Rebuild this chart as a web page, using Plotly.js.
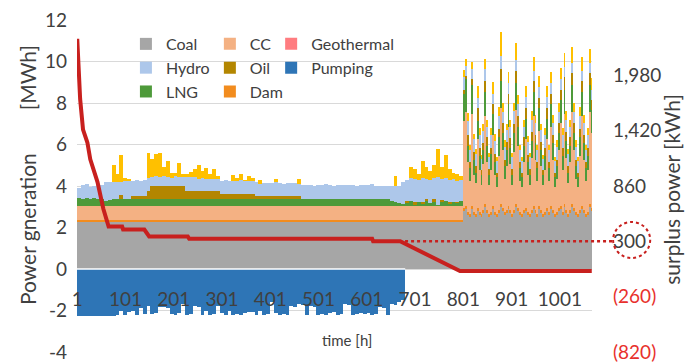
<!DOCTYPE html>
<html><head><meta charset="utf-8">
<script src="https://cdn.plot.ly/plotly-3.0.1.min.js"></script>
<style>html,body{margin:0;padding:0;background:#fff}#chart{width:685px;height:364px}</style>
</head><body><div id="chart"></div>
<script>
// ---- block layout of the hourly series (read in blocks) ----
const earlyStartHour = 0.5, earlyBlockHours = 8;   // hours 1..800
const lateStartHour = 800.5, lateBlockHours = 4;   // hours 801..1067

// ---- early period (100 blocks of 8 h), MWh ----
const coalEarly = [
2.25,2.25,2.25,2.25,2.25,2.25,2.25,2.25,2.25,2.25,
2.25,2.25,2.25,2.25,2.25,2.25,2.25,2.25,2.25,2.25,
2.25,2.25,2.25,2.25,2.25,2.25,2.25,2.25,2.25,2.25,
2.25,2.25,2.25,2.25,2.25,2.25,2.25,2.25,2.25,2.25,
2.25,2.25,2.25,2.25,2.25,2.25,2.25,2.25,2.25,2.25,
2.25,2.25,2.25,2.25,2.25,2.25,2.25,2.25,2.25,2.25,
2.25,2.25,2.25,2.25,2.25,2.25,2.25,2.25,2.25,2.25,
2.25,2.25,2.25,2.25,2.25,2.25,2.25,2.25,2.25,2.25,
2.25,2.25,2.25,2.25,2.25,2.25,2.25,2.25,2.25,2.25,
2.25,2.25,2.25,2.25,2.25,2.25,2.25,2.25,2.25,2.25];
const damEarly = [
0.12,0.12,0.12,0.12,0.12,0.12,0.12,0.12,0.12,0.12,
0.12,0.12,0.12,0.12,0.12,0.12,0.12,0.12,0.12,0.12,
0.12,0.12,0.12,0.12,0.12,0.12,0.12,0.12,0.12,0.12,
0.12,0.12,0.12,0.12,0.12,0.12,0.12,0.12,0.12,0.12,
0.12,0.12,0.12,0.12,0.12,0.12,0.12,0.12,0.12,0.12,
0.12,0.12,0.12,0.12,0.12,0.12,0.12,0.12,0.12,0.12,
0.12,0.12,0.12,0.12,0.12,0.12,0.12,0.12,0.12,0.12,
0.12,0.12,0.12,0.12,0.12,0.12,0.12,0.12,0.12,0.12,
0.12,0.12,0.12,0.12,0.12,0.12,0.12,0.12,0.12,0.12,
0.12,0.12,0.12,0.12,0.12,0.12,0.12,0.12,0.12,0.12];
const ccEarly = [
0.65,0.65,0.65,0.65,0.65,0.65,0.65,0.65,0.65,0.65,
0.65,0.65,0.65,0.65,0.65,0.65,0.65,0.65,0.65,0.65,
0.65,0.65,0.65,0.65,0.65,0.65,0.65,0.65,0.65,0.65,
0.65,0.65,0.65,0.65,0.65,0.65,0.65,0.65,0.65,0.65,
0.65,0.65,0.65,0.65,0.65,0.65,0.65,0.65,0.65,0.65,
0.65,0.65,0.65,0.65,0.65,0.65,0.65,0.65,0.65,0.65,
0.65,0.65,0.65,0.65,0.65,0.65,0.65,0.65,0.65,0.65,
0.65,0.65,0.65,0.65,0.65,0.65,0.65,0.65,0.65,0.65,
0.65,0.65,0.65,0.65,0.65,0.65,0.65,0.65,0.65,0.65,
0.65,0.65,0.65,0.65,0.65,0.65,0.65,0.65,0.65,0.65];
const lngEarly = [
0.38,0.35,0.40,0.36,0.38,0.35,0.37,0.25,0.30,0.33,
0.33,0.33,0.33,0.33,0.33,0.33,0.33,0.33,0.33,0.33,
0.33,0.33,0.33,0.33,0.33,0.33,0.33,0.33,0.33,0.33,
0.33,0.33,0.33,0.33,0.33,0.33,0.33,0.33,0.33,0.33,
0.33,0.33,0.33,0.33,0.33,0.33,0.33,0.33,0.33,0.33,
0.33,0.33,0.33,0.33,0.33,0.33,0.33,0.33,0.33,0.33,
0.33,0.33,0.33,0.33,0.33,0.33,0.33,0.33,0.33,0.33,
0.33,0.33,0.33,0.33,0.33,0.33,0.33,0.33,0.33,0.33,
0.33,0.25,0.20,0.15,0.10,0.15,0.25,0.05,0.20,0.10,
0.25,0.15,0.20,0.05,0.20,0.25,0.10,0.20,0.15,0.25];
const oilEarly = [
0,0,0,0,0,0,0,0,0,0,
0,0.2,0,0,0.15,0.15,0.15,0.15,0.4,0.65,
0.65,0.65,0.65,0.65,0.65,0.65,0.65,0.65,0.4,0.4,
0.4,0.4,0.4,0.4,0.4,0.4,0.4,0.25,0.25,0.25,
0.25,0.25,0.25,0.25,0.25,0.25,0.15,0.15,0.15,0.15,
0.15,0.15,0.15,0.15,0.15,0.15,0.15,0.15,0,0,
0,0,0,0,0,0,0,0,0,0,
0,0,0,0,0,0,0,0,0,0,
0,0,0,0,0,0.10,0,0.15,0,0.10,
0.10,0,0.15,0,0.10,0,0.10,0,0.05,0];
const hydroEarly = [
0.50,0.68,0.68,0.57,0.60,0.73,0.66,0.93,0.88,0.85,
0.85,0.65,0.90,0.90,0.72,0.78,0.75,0.80,0.65,0.45,
0.50,0.42,0.48,0.45,0.40,0.47,0.45,0.43,0.70,0.68,
0.70,0.60,0.62,0.58,0.60,0.60,0.58,0.65,0.68,0.62,
0.66,0.64,0.67,0.63,0.65,0.62,0.67,0.62,0.65,0.66,
0.63,0.68,0.64,0.62,0.66,0.63,0.65,0.60,0.68,0.72,
0.70,0.66,0.71,0.69,0.73,0.70,0.67,0.70,0.72,0.68,
0.70,0.71,0.66,0.70,0.69,0.72,0.75,0.65,0.63,0.67,
0.65,0.73,0.78,0.85,1.08,1.03,1.13,1.13,1.08,1.18,
0.98,1.13,1.03,1.38,1.03,1.13,1.08,1.13,1.03,1.03];
const solarEarly = [
0,0,0,0,0,0,0,0,0,0.8,
0.4,1.3,0.15,0.1,0,0,0,0,1.2,0.85,
1.05,1.15,0.45,0.75,0.25,0.15,0.65,0.15,0.15,0.25,
0.35,0.65,0.35,0.55,0.25,0.45,0.15,0,0,0,
0.25,0.15,0.3,0.05,0.25,0.15,0,0.15,0,0,
0,0.15,0,0,0,0,0,0.25,0,0,
0,0,0,0,0,0,0,0,0,0,
0,0,0,0,0,0,0,0,0,0,
0,0,0.5,0,0,0,0.5,0.45,0.3,0.8,
0.55,0.4,0.6,1.35,0.55,1.1,0.5,0.3,0.35,0.2];
const pumpingEarly = [
-2.25,-2.25,-2.25,-2.25,-2.25,-2.25,-2.25,-2.25,-2.25,-2.25,
-2.2,-2.0,-2.2,-2.05,-2.0,-2.2,-1.9,-2.15,-1.8,-2.15,
-2.1,-1.85,-1.85,-1.9,-2.15,-2.2,-2.1,-1.7,-2.2,-2.15,
-1.8,-1.85,-2.2,-2.0,-2.2,-2.15,-1.8,-2.1,-2.2,-2.0,
-2.2,-2.15,-2.2,-2.1,-2.05,-2.05,-2.2,-2.0,-2.2,-2.15,
-1.6,-2.1,-2.2,-2.15,-2.2,-1.8,-1.85,-1.7,-1.75,-2.2,
-1.8,-1.85,-2.2,-2.15,-2.2,-2.1,-2.05,-2.2,-2.15,-1.7,
-1.75,-2.2,-2.15,-2.1,-2.15,-2.1,-2.2,-2.15,-1.85,-1.9,
-2.2,-1.7,-1.75,-1.6,-1.5];

// ---- late period (67 blocks of 4 h), MWh ----
const coalLate = [
2.8,2.9,2.6,2.5,2.9,2.6,2.5,2.8,2.6,2.5,
2.7,3.0,2.7,2.5,2.6,2.9,2.6,2.5,2.7,3.0,
2.8,2.6,2.7,2.9,2.7,2.5,2.7,3.0,2.8,2.6,
2.5,2.7,2.8,2.6,2.5,2.7,2.9,2.7,2.5,2.9,
2.7,2.5,2.6,2.8,2.6,2.9,2.7,2.5,2.6,2.8,
2.9,2.6,3.0,2.7,2.5,2.7,3.0,2.8,2.6,2.5,
2.7,2.9,2.7,2.5,2.6,3.0,2.8];
const damLate = [
0.15,0.15,0.15,0.15,0.15,0.15,0.15,0.15,0.15,0.15,
0.15,0.15,0.15,0.15,0.15,0.15,0.15,0.15,0.15,0.15,
0.15,0.15,0.15,0.15,0.15,0.15,0.15,0.15,0.15,0.15,
0.15,0.15,0.15,0.15,0.15,0.15,0.15,0.15,0.15,0.15,
0.15,0.15,0.15,0.15,0.15,0.15,0.15,0.15,0.15,0.15,
0.15,0.15,0.15,0.15,0.15,0.15,0.15,0.15,0.15,0.15,
0.15,0.15,0.15,0.15,0.15,0.15,0.15];
const ccLate = [
4.2,4.5,2.4,1.6,4.4,1.8,1.5,3.3,2.0,1.4,
2.2,4.2,2.3,1.4,2.0,3.4,1.8,1.3,2.6,4.6,
2.8,1.6,2.1,3.8,2.2,1.4,2.8,4.5,3.0,1.5,
1.3,2.3,3.3,1.8,1.4,2.5,4.3,2.4,1.6,3.6,
2.1,1.4,2.0,3.3,1.5,3.8,2.4,1.3,1.6,2.8,
4.0,2.0,4.3,2.5,1.5,2.3,4.4,2.8,1.6,1.3,
2.6,4.3,2.4,1.6,2.0,4.4,3.6];
const lngLate = [
1.3,1.6,0.8,0.6,1.4,0.7,0.5,0.9,0.7,0.5,
0.7,1.2,0.8,0.5,0.8,1.0,0.6,0.5,0.9,1.3,
0.8,0.6,0.8,1.1,0.8,0.5,0.9,1.3,0.9,0.6,
0.5,0.8,1.0,0.6,0.5,0.8,1.2,0.8,0.6,1.1,
0.8,0.5,0.7,1.0,0.6,1.1,0.8,0.5,0.6,0.8,
1.1,0.7,1.2,0.8,0.5,0.8,1.3,0.8,0.6,0.5,
0.9,1.2,0.8,0.6,0.7,1.3,1.1];
const oilLate = [
0.2,0.15,0.5,0.3,0.3,0.4,0.3,0.6,0.4,0.2,
0.3,0.5,0.4,0.25,0.3,0.5,0.4,0.2,0.4,0.6,
0.5,0.3,0.35,0.5,0.45,0.25,0.45,0.6,0.5,0.3,
0.2,0.4,0.5,0.35,0.25,0.45,0.5,0.4,0.3,0.5,
0.35,0.2,0.4,0.5,0.3,0.5,0.4,0.2,0.3,0.5,
0.5,0.4,0.6,0.45,0.3,0.4,0.6,0.5,0.3,0.2,
0.4,0.5,0.4,0.3,0.4,0.6,0.5];
const hydroLate = [
0.6,0.5,0.7,0.6,0.5,0.6,0.6,0.5,0.6,0.55,
0.6,0.6,0.5,0.6,0.6,0.5,0.6,0.55,0.6,0.6,
0.5,0.65,0.6,0.5,0.55,0.6,0.6,0.5,0.6,0.6,
0.55,0.5,0.55,0.6,0.6,0.6,0.5,0.6,0.6,0.5,
0.6,0.55,0.6,0.55,0.6,0.5,0.6,0.55,0.65,0.5,
0.5,0.6,0.5,0.6,0.6,0.5,0.5,0.5,0.65,0.55,
0.6,0.5,0.6,0.6,0.6,0.5,0.5];
const solarLate = [
0.35,0.3,0.35,0.25,0.35,0.25,0.25,0.55,0.35,0.2,
0.35,0.45,0.35,0.2,0.35,0.55,0.35,0.2,0.45,1.15,
0.45,0.3,0.3,0.55,0.35,0.2,0.4,0.85,0.45,0.25,
0.2,0.35,0.5,0.3,0.2,0.4,0.65,0.35,0.25,0.55,
0.3,0.2,0.35,0.5,0.25,0.55,0.35,0.2,0.3,0.45,
0.55,0.35,0.65,0.4,0.25,0.35,0.75,0.45,0.3,0.2,
0.45,0.65,0.35,0.25,0.35,0.65,0.55];
const geothermalHours = [1];
const geothermalMWh = [0];

// ---- surplus power line (kWh) ----
const surplusHours = [1,7,13,22,28,43,55,66,94,96,140,150,230,233,612,614,670,794,1067];
const surplusKWh  = [2350,1740,1430,1300,1130,900,630,450,450,420,420,350,350,325,325,300,300,0,0];

// ---- axes ----
const hourTicks = [1,101,201,301,401,501,601,701,801,901,1001];
const hourTickLabels = ['1','101','201','301','401','501','601','701','801','901','1001'];
const mwhTicks = [-4,-2,0,2,4,6,8,10,12];
const mwhTickLabels = ['-4','-2','0','2','4','6','8','10','12'];
const kwhTicks = [-820,-260,300,860,1420,1980];
const kwhTickLabels = ['(820)','(260)','300','860','1,420','1,980'];

// ---- build ----
function centers(n, start, w){ const a=[]; for(let i=0;i<n;i++) a.push(start + w*i + w/2); return a; }
const xEarly = centers(100, earlyStartHour, earlyBlockHours);
const xLate = centers(67, lateStartHour, lateBlockHours);
const xAll = xEarly.concat(xLate);
const wAll = xEarly.map(()=>earlyBlockHours).concat(xLate.map(()=>lateBlockHours));
const FONT = 'Lato, "Open Sans", sans-serif';
const TXT = '#404040';

function barTrace(name, early, late, color, legend, rank, show){
  return {type:'bar', name:name, x:xAll, y:early.concat(late), width:wAll,
    marker:{color:color, line:{width:0}}, legend:legend, legendrank:rank,
    showlegend:show, hoverinfo:'skip'};
}
const traces = [
  barTrace('Coal', coalEarly, coalLate, '#A6A6A6', 'legend', 1, true),
  barTrace('Dam', damEarly, damLate, '#F28C1E', 'legend2', 3, true),
  barTrace('CC', ccEarly, ccLate, '#F4B183', 'legend2', 1, true),
  barTrace('LNG', lngEarly, lngLate, '#4E9A3A', 'legend', 3, true),
  barTrace('Oil', oilEarly, oilLate, '#B38600', 'legend2', 2, true),
  barTrace('Hydro', hydroEarly, hydroLate, '#ADC7EA', 'legend', 2, true),
  barTrace('Solar', solarEarly, solarLate, '#FFC000', 'legend', 9, false),
  {type:'bar', name:'Geothermal', x:geothermalHours, y:geothermalMWh, width:[earlyBlockHours],
   marker:{color:'#FF7C80', line:{width:0}}, legend:'legend3', legendrank:1, hoverinfo:'skip'},
  {type:'bar', name:'Pumping', x:xEarly.slice(0, pumpingEarly.length), y:pumpingEarly,
   width:xEarly.slice(0, pumpingEarly.length).map(()=>earlyBlockHours),
   marker:{color:'#2E75B6', line:{width:0}}, legend:'legend3', legendrank:2, hoverinfo:'skip'},
  {type:'scatter', mode:'lines', name:'surplus', x:surplusHours, y:surplusKWh, yaxis:'y2',
   line:{color:'#C8201E', width:4}, showlegend:false, hoverinfo:'skip'}
];

const legendBase = {bgcolor:'rgba(0,0,0,0)', borderwidth:0, font:{family:FONT, size:16, color:TXT},
  xanchor:'left', yanchor:'top', orientation:'v', traceorder:'normal', tracegroupgap:0, itemclick:false};

const layout = {
  width:685, height:364, margin:{l:77, r:93, t:20, b:12},
  paper_bgcolor:'#fff', plot_bgcolor:'#fff',
  barmode:'relative', bargap:0,
  font:{family:FONT, color:TXT},
  xaxis:{range:[0.5,1067.5], tickmode:'array', tickvals:hourTicks, ticktext:hourTickLabels,
    showgrid:false, zeroline:false, showline:false, ticks:'', anchor:'free', position:0.2,
    tickfont:{family:FONT, size:19, color:TXT}},
  yaxis:{range:[-4,12], tickmode:'array', tickvals:mwhTicks, ticktext:mwhTickLabels,
    showgrid:true, gridcolor:'#D9D9D9', gridwidth:1, zeroline:false, showline:false, ticks:'',
    ticklabelstandoff:9, tickfont:{family:FONT, size:19, color:TXT}},
  yaxis2:{range:[-820,2540], overlaying:'y', side:'right', tickmode:'array', tickvals:kwhTicks,
    ticktext:kwhTickLabels.map(t => t.startsWith('(') ? '<span style="color:#E8302C">'+t+'</span>' : t),
    showgrid:false, zeroline:false, showline:false, ticks:'', ticklabelstandoff:20,
    tickfont:{family:FONT, size:19, color:TXT}},
  legend:Object.assign({}, legendBase, {x:0.095, y:0.979}),
  legend2:Object.assign({}, legendBase, {x:0.258, y:0.979}),
  legend3:Object.assign({}, legendBase, {x:0.377, y:0.979}),
  annotations:[
    {text:'time [h]', xref:'paper', yref:'paper', x:0.524, y:0.036, showarrow:false,
     font:{family:FONT, size:15, color:TXT}, xanchor:'center', yanchor:'middle'},
    {text:'Power gneration\u00a0\u00a0\u00a0\u00a0\u00a0\u00a0\u00a0 [MWh]', xref:'paper', yref:'paper',
     x:-0.097, y:0.533, textangle:-90, showarrow:false, font:{family:FONT, size:21, color:TXT},
     xanchor:'center', yanchor:'middle'},
    {text:'surplus power [kWh]', xref:'paper', yref:'paper', x:1.155, y:0.491, textangle:-90,
     showarrow:false, font:{family:FONT, size:21, color:TXT}, xanchor:'center', yanchor:'middle'}
  ],
  shapes:[
    {type:'line', xref:'x', yref:'y', x0:0.5, x1:680.5, y0:0, y1:0, layer:'above',
     line:{color:'#ffffff', width:1.5}},
    {type:'line', xref:'paper', yref:'y2', x0:0.637, x1:1.039, y0:300, y1:300,
     line:{color:'#C8201E', width:2.5, dash:'dot'}},
    {type:'circle', xref:'paper', yref:'y2', x0:1.041, x1:1.113, y0:131, y1:496,
     line:{color:'#C8201E', width:2, dash:'dot'}}
  ]
};
Plotly.newPlot('chart', traces, layout, {displayModeBar:false, staticPlot:true});
</script></body></html>
